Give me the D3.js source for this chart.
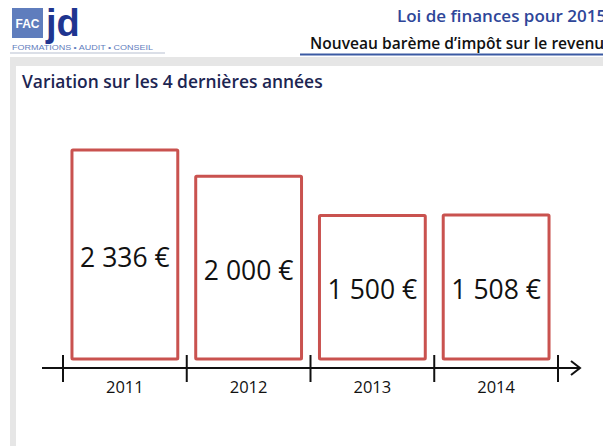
<!DOCTYPE html>
<html>
<head>
<meta charset="utf-8">
<script src="https://cdn.jsdelivr.net/npm/d3@7"></script>
<style>
    html, body { margin: 0; padding: 0; background: #fff; }
    svg { display: block; }
</style>
</head>
<body>
<div id="chart"></div>
<script>
    const years = ["2011", "2012", "2013", "2014"];
    const amounts = [2336, 2000, 1500, 1508];
    const titleLine1 = "Loi de finances pour 2015";
    const titleLine2 = "Nouveau barème d\u2019impôt sur le revenu";
    const subTitle = "Variation sur les 4 dernières années";

    const width = 603, height = 446;
    const svg = d3.select("#chart").append("svg")
        .attr("width", width)
        .attr("height", height);

    // header / logo
    svg.append("rect").attr("x", 12).attr("y", 8).attr("width", 31).attr("height", 30)
        .attr("fill", "#5f7dbd");
    svg.append("text").attr("x", 27.5).attr("y", 28).attr("text-anchor", "middle")
        .attr("font-family", "Liberation Sans, Arial, sans-serif").attr("font-weight", "bold")
        .attr("font-size", 12).attr("fill", "#fff").text("FAC");
    svg.append("text").attr("x", 46).attr("y", 36)
        .attr("font-family", "Liberation Sans, Arial, sans-serif").attr("font-weight", "bold")
        .attr("font-size", 38).attr("fill", "#1f3590").text("jd");
    svg.append("text").attr("x", 12).attr("y", 50)
        .attr("font-family", "Liberation Sans, Arial, sans-serif")
        .attr("font-size", 6.5).attr("fill", "#5f7dbd")
        .attr("textLength", 141).attr("lengthAdjust", "spacingAndGlyphs")
        .text("FORMATIONS  •  AUDIT  •  CONSEIL");

    svg.append("text").attr("x", 397).attr("y", 22)
        .attr("font-family", "Open Sans, sans-serif").attr("font-size", 17)
        .attr("font-weight", 600).attr("fill", "#2e4699").text(titleLine1);
    svg.append("text").attr("x", 310).attr("y", 49)
        .attr("font-family", "Open Sans, sans-serif").attr("font-size", 15.6)
        .attr("font-weight", 600).attr("fill", "#111").text(titleLine2);

    svg.append("line").attr("x1", 10).attr("x2", 165).attr("y1", 53).attr("y2", 53)
        .attr("stroke", "#b7bfd0").attr("stroke-width", 1);
    svg.append("line").attr("x1", 300).attr("x2", width).attr("y1", 54.5).attr("y2", 54.5)
        .attr("stroke", "#3b5aa3").attr("stroke-width", 2);

    // gray frame
    svg.append("rect").attr("x", 10).attr("y", 57).attr("width", width - 10).attr("height", 9)
        .attr("fill", "#e6e6e6");
    svg.append("rect").attr("x", 10).attr("y", 57).attr("width", 6).attr("height", height - 57)
        .attr("fill", "#e6e6e6");

    svg.append("text").attr("x", 22).attr("y", 88)
        .attr("font-family", "Open Sans, sans-serif").attr("font-size", 17.4)
        .attr("font-weight", 600).attr("fill", "#1c2552").text(subTitle);

    // scales
    const x = d3.scaleBand()
        .domain(years)
        .range([63, 558])
        .paddingInner(0.145)
        .paddingOuter(0.0725);

    const y = d3.scaleLinear()
        .domain([-330, 2336])
        .range([359, 150]);

    const fr = d3.formatLocale({ decimal: ",", thousands: "\u00a0", grouping: [3], currency: ["", " €"] });
    const fmt = fr.format("$,d");

    // bars
    const bars = svg.append("g");
    bars.selectAll("rect")
        .data(years)
        .join("rect")
        .attr("x", d => x(d))
        .attr("y", (d, i) => y(amounts[i]))
        .attr("width", x.bandwidth())
        .attr("height", (d, i) => y(y.domain()[0]) - y(amounts[i]))
        .attr("rx", 1)
        .attr("fill", "#fff")
        .attr("stroke", "#c9524f")
        .attr("stroke-width", 3);

    bars.selectAll("text")
        .data(years)
        .join("text")
        .attr("x", d => x(d) + x.bandwidth() / 2)
        .attr("y", (d, i) => (y(amounts[i]) + y(y.domain()[0])) / 2 + 12)
        .attr("text-anchor", "middle")
        .attr("font-family", "Open Sans, sans-serif")
        .attr("font-size", 26.5)
        .attr("fill", "#111")
        .text((d, i) => fmt(amounts[i]));

    // axis
    const axisY = 368;
    const step = x.step();
    const half = step * x.paddingInner() / 2;
    const tickXs = years.map(d => x(d) - half).concat([x(years[years.length - 1]) + x.bandwidth() + half]);

    const axis = svg.append("g").attr("stroke", "#111").attr("stroke-width", 2).attr("fill", "none");
    axis.append("line").attr("x1", 42).attr("x2", 579).attr("y1", axisY).attr("y2", axisY);
    axis.append("path").attr("d", `M571,${axisY - 7} L580,${axisY} L571,${axisY + 7}`)
        .attr("stroke-linejoin", "miter");
    axis.selectAll("line.tick")
        .data(tickXs)
        .join("line")
        .attr("class", "tick")
        .attr("x1", d => d).attr("x2", d => d)
        .attr("y1", axisY - 13).attr("y2", axisY + 14);

    svg.append("g").selectAll("text")
        .data(years)
        .join("text")
        .attr("x", d => x(d) + x.bandwidth() / 2)
        .attr("y", 393)
        .attr("text-anchor", "middle")
        .attr("font-family", "Open Sans, sans-serif")
        .attr("font-size", 16.5)
        .attr("fill", "#111")
        .text(d => d);
</script>
</body>
</html>
